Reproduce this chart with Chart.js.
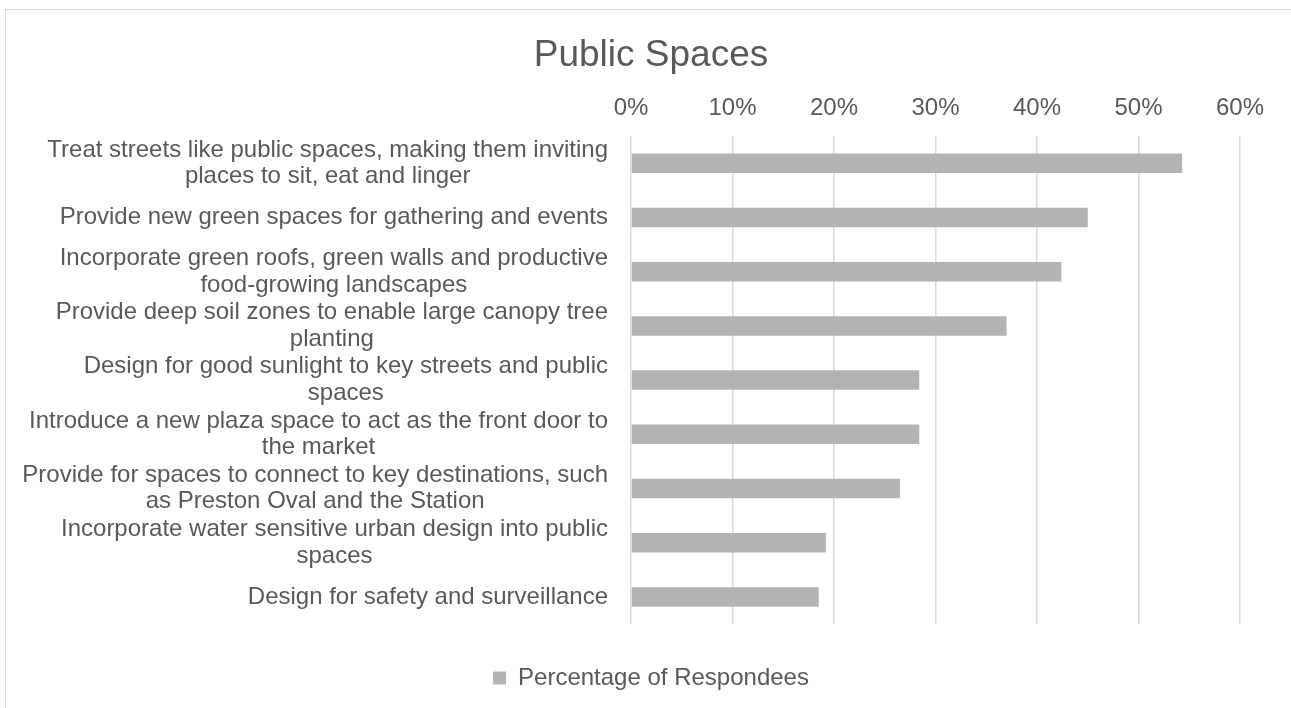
<!DOCTYPE html>
<html>
<head>
<meta charset="utf-8">
<script src="https://cdn.jsdelivr.net/npm/chart.js@4/dist/chart.umd.min.js"></script>
<style>
  html, body { margin: 0; padding: 0; overflow: hidden; background: #fff; }
  #frame { position: absolute; left: 5px; top: 9px; width: 1300px; height: 720px; border: 1px solid #d9d9d9; }
  #wrap { position: absolute; left: 0; top: 0; width: 1291px; height: 708px; }
</style>
</head>
<body>
<div id="frame"></div>
<div id="wrap"><canvas id="chartPublic"></canvas></div>
<script>
// Respostas do inquérito - espaços públicos
const categorias = [
  ['Treat streets like public spaces, making them inviting', 'places to sit, eat and linger'],
  ['Provide new green spaces for gathering and events'],
  ['Incorporate green roofs, green walls and productive', 'food-growing landscapes'],
  ['Provide deep soil zones to enable large canopy tree', 'planting'],
  ['Design for good sunlight to key streets and public', 'spaces'],
  ['Introduce a new plaza space to act as the front door to', 'the market'],
  ['Provide for spaces to connect to key destinations, such', 'as Preston Oval and the Station'],
  ['Incorporate water sensitive urban design into public', 'spaces'],
  ['Design for safety and surveillance']
];
const percentagens = [54.3, 45.0, 42.4, 37.0, 28.4, 28.4, 26.5, 19.2, 18.5];
const ticksX = [0, 10, 20, 30, 40, 50, 60];

const corTexto = '#595959';
const fonte = '"Liberation Sans", Arial, sans-serif';

// desenha os rótulos do eixo y alinhados à direita, com linhas centradas (estilo Excel)
const rotulosY = {
  id: 'rotulosY',
  afterDraw(chart) {
    const ctx = chart.ctx;
    const y = chart.scales.y;
    const direita = 608;
    const alturaLinha = 26.5;
    ctx.save();
    ctx.font = '24px ' + fonte;
    ctx.fillStyle = corTexto;
    ctx.textAlign = 'center';
    ctx.textBaseline = 'middle';
    categorias.forEach(function(linhas, i) {
      const centro = y.getPixelForValue(i);
      const larg = Math.max(...linhas.map(l => ctx.measureText(l).width));
      const x = direita - larg / 2;
      linhas.forEach(function(l, k) {
        ctx.fillText(l, x, centro + (k - (linhas.length - 1) / 2) * alturaLinha);
      });
    });
    ctx.restore();
  }
};

// eixo vazio só para reservar espaço
function eixoVazio(pos, eixo, tamanho) {
  return {
    type: 'linear',
    axis: eixo,
    position: pos,
    ticks: { display: false },
    grid: { display: false },
    border: { display: false },
    afterFit: function(s) {
      if (eixo === 'x') s.height = tamanho; else s.width = tamanho;
    }
  };
}

const ctx = document.getElementById('chartPublic').getContext('2d');
new Chart(ctx, {
  type: 'bar',
  data: {
    labels: categorias.map(c => c.join(' ')),
    datasets: [{
      label: 'Percentage of Respondees',
      data: percentagens,
      xAxisID: 'x',
      yAxisID: 'y',
      backgroundColor: '#b3b3b3',
      borderWidth: 0,
      barPercentage: 0.36,
      categoryPercentage: 1
    }]
  },
  options: {
    indexAxis: 'y',
    responsive: true,
    maintainAspectRatio: false,
    animation: false,
    layout: { padding: { left: 11, right: 0, top: 0, bottom: 8 } },
    plugins: {
      tooltip: { enabled: false },
      title: {
        display: true,
        text: 'Public Spaces',
        color: corTexto,
        font: { family: fonte, size: 37, weight: 'normal' },
        padding: { top: 34, bottom: 3 }
      },
      legend: {
        position: 'bottom',
        labels: {
          color: corTexto,
          font: { family: fonte, size: 24 },
          boxWidth: 13,
          boxHeight: 13
        }
      }
    },
    scales: {
      x: {
        position: 'top',
        min: 0,
        max: 60,
        afterBuildTicks: function(s) { s.ticks = ticksX.map(v => ({ value: v })); },
        ticks: {
          color: corTexto,
          font: { family: fonte, size: 24 },
          padding: 13,
          callback: function(v) { return v + '%'; }
        },
        grid: { color: '#d9d9d9', lineWidth: 1.5, drawTicks: false, tickLength: 0 },
        border: { display: false }
      },
      gap: eixoVazio('bottom', 'x', 32),
      padR: eixoVazio('right', 'y', 51),
      y: {
        ticks: { display: false },
        grid: { display: false },
        border: { display: false },
        afterFit: function(s) { s.width = 620; }
      }
    }
  },
  plugins: [rotulosY]
});
</script>
</body>
</html>
